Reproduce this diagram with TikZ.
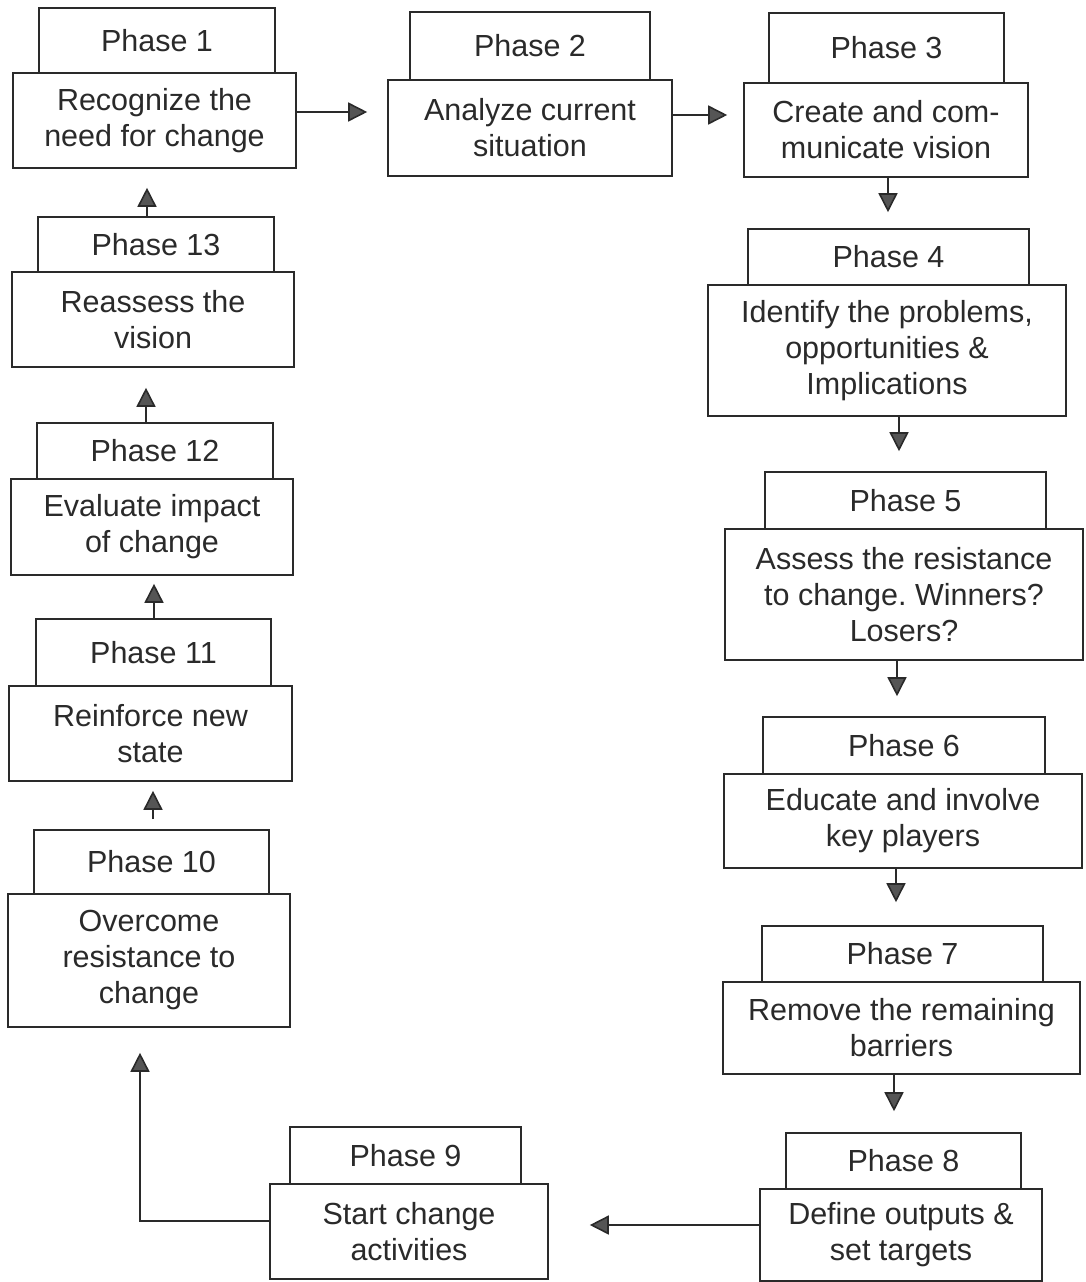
\documentclass[tikz,border=0pt]{standalone}
\usepackage{fontspec}
\setmainfont{Liberation Sans}
\usetikzlibrary{arrows.meta}
\frenchspacing
\definecolor{ink}{HTML}{2A2A2A}
\definecolor{headfill}{HTML}{555555}
\tikzset{
  box/.style={draw=ink, line width=1.6pt, fill=white, inner sep=0pt, align=center,
    text=ink, font=\fontsize{30.5}{36}\selectfont},
  arr/.style={draw=ink, line width=1.6pt,
    -{Triangle[length=19pt,width=19pt,fill=headfill]}},
}
\begin{document}
\begin{tikzpicture}[x=1pt,y=-1pt]
\useasboundingbox (0,0) rectangle (1086,1282);
\fill[white] (0,0) rectangle (1086,1282);
% header boxes
\node[box, minimum width=236pt, minimum height=65pt] (h1) at (157,40.5) {Phase 1};
\node[box, minimum width=240pt, minimum height=68pt] (h2) at (530,46) {Phase 2};
\node[box, minimum width=235pt, minimum height=70pt] (h3) at (886.5,48) {Phase 3};
\node[box, minimum width=281pt, minimum height=56pt] (h4) at (888.5,257) {Phase 4};
\node[box, minimum width=281pt, minimum height=57pt] (h5) at (905.5,500.5) {Phase 5};
\node[box, minimum width=282pt, minimum height=57pt] (h6) at (904,745.5) {Phase 6};
\node[box, minimum width=281pt, minimum height=56pt] (h7) at (902.5,954) {Phase 7};
\node[box, minimum width=235pt, minimum height=56pt] (h8) at (903.5,1161) {Phase 8};
\node[box, minimum width=231pt, minimum height=57pt] (h9) at (405.5,1155.5) {Phase 9};
\node[box, minimum width=235pt, minimum height=64pt] (h10) at (151.5,862) {Phase 10};
\node[box, minimum width=235pt, minimum height=67pt] (h11) at (153.5,652.5) {Phase 11};
\node[box, minimum width=236pt, minimum height=56pt] (h12) at (155,451) {Phase 12};
\node[box, minimum width=236pt, minimum height=55pt] (h13) at (156,244.5) {Phase 13};
% main boxes
\node[box, minimum width=283pt, minimum height=95pt] (m1) at (154.5,120.5) {Recognize the\\need for change};
\node[box, minimum width=284pt, minimum height=96pt] (m2) at (530,128) {Analyze current\\situation};
\node[box, minimum width=284pt, minimum height=94pt] (m3) at (886,130) {Create and com-\\municate vision};
\node[box, minimum width=358pt, minimum height=131pt] (m4) at (887,350.5) {Identify the problems,\\opportunities \&\\Implications};
\node[box, minimum width=358pt, minimum height=131pt] (m5) at (904,594.5) {Assess the resistance\\to change. Winners?\\Losers?};
\node[box, minimum width=358pt, minimum height=94pt] (m6) at (903,821) {Educate and involve\\key players};
\node[box, minimum width=357pt, minimum height=92pt] (m7) at (901.5,1028) {Remove the remaining\\barriers};
\node[box, minimum width=282pt, minimum height=92pt] (m8) at (901,1235) {Define outputs \&\\set targets};
\node[box, minimum width=278pt, minimum height=95pt] (m9) at (409,1231.5) {Start change\\activities};
\node[box, minimum width=282pt, minimum height=133pt] (m10) at (149,960.5) {Overcome\\resistance to\\change};
\node[box, minimum width=283pt, minimum height=95pt] (m11) at (150.5,733.5) {Reinforce new\\state};
\node[box, minimum width=282pt, minimum height=96pt] (m12) at (152,527) {Evaluate impact\\of change};
\node[box, minimum width=282pt, minimum height=95pt] (m13) at (153,319.5) {Reassess the\\vision};
% connectors
\draw[arr, shorten >=20pt] (m1.east |- 0,112) -- (m2.west |- 0,112);
\draw[arr, shorten >=16pt] (m2.east |- 0,115) -- (m3.west |- 0,115);
\draw[arr, shorten >=16pt] (m3.south -| 888,0) -- (h4.north -| 888,0);
\draw[arr, shorten >=20pt] (m4.south -| 899,0) -- (h5.north -| 899,0);
\draw[arr, shorten >=20pt] (m5.south -| 897,0) -- (h6.north -| 897,0);
\draw[arr, shorten >=23pt] (m6.south -| 896,0) -- (h7.north -| 896,0);
\draw[arr, shorten >=21pt] (m7.south -| 894,0) -- (h8.north -| 894,0);
\draw[arr, shorten >=41pt] (m8.west |- 0,1225) -- (m9.east |- 0,1225);
\draw[arr, shorten >=25pt] (m9.west |- 0,1221) -| (m10.south -| 140,0);
\draw[arr, shorten <=10pt, shorten >=9pt] (h10.north -| 153,0) -- (m11.south -| 153,0);
\draw[arr, shorten >=8pt] (h11.north -| 154,0) -- (m12.south -| 154,0);
\draw[arr, shorten >=20pt] (h12.north -| 146,0) -- (m13.south -| 146,0);
\draw[arr, shorten >=19pt] (h13.north -| 147,0) -- (m1.south -| 147,0);
\end{tikzpicture}
\end{document}
